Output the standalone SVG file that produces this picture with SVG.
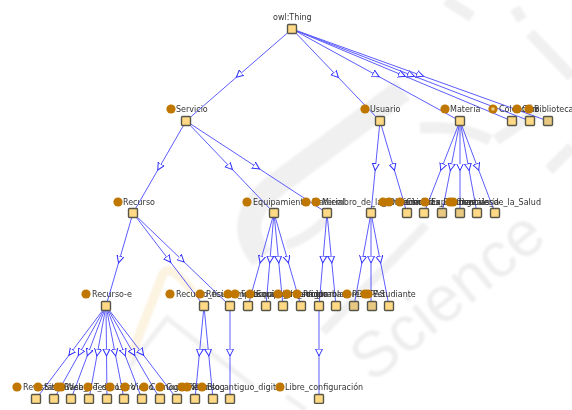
<svg xmlns="http://www.w3.org/2000/svg" width="572" height="410" viewBox="0 0 572 410">
<style>
text{font-family:"DejaVu Sans",sans-serif;font-size:8px;fill:#333}
.d{fill:#bf7700}
.n{fill:#ffd985;stroke:#555548;stroke-width:1.4}
.m{fill:#e9c982;stroke:#555548;stroke-width:1.4}
.e{fill:none;stroke:#5c5cff;stroke-width:1;marker-mid:url(#tri)}
.w{fill:none;stroke:#f0f0f0}
.wm{font-family:"Liberation Sans",sans-serif;font-size:64px;fill:#eeeeee}
</style>
<defs>
<marker id="tri" markerUnits="userSpaceOnUse" markerWidth="10" markerHeight="10" refX="3.5" refY="4" orient="auto"><path d="M0 0.5L7 4L0 7.5Z" fill="#fff" stroke="#3030ff" stroke-width="1"/></marker>
<filter id="b" x="-10%" y="-10%" width="120%" height="120%"><feGaussianBlur stdDeviation="1.2"/></filter>
<filter id="s" x="0" y="0" width="100%" height="100%"><feGaussianBlur stdDeviation="0.3"/></filter>
</defs>
<rect width="572" height="410" fill="#fff"/>
<g id="watermark" filter="url(#b)">
<path d="M130 358L163 274Q170 262 193 292" fill="none" stroke="#fcf3e0" stroke-width="9"/>
<path d="M130 366L167 318L253 386" class="w" stroke-width="5"/>
<path d="M286 396L306 410" class="w" stroke-width="5"/>
<path d="M403 90L272 188Q232 222 262 258" class="w" stroke-width="24"/>
<path d="M286 245Q305 240 326 220" class="w" stroke-width="10"/>
<path d="M323 332L426 225" class="w" stroke-width="9"/>
<path d="M420 128Q460 125 490 140M446 0L472 17M530 33L572 77M515 8L522 20M549 170L572 147M496 140L540 110" class="w" stroke-width="11"/>
<text class="wm" transform="translate(372 384) rotate(-39)">Science</text>
</g>
<g filter="url(#s)">
<g id="connectors">
<polyline class="e" points="292,29 239,75 186,121"/>
<polyline class="e" points="292,29 336,75 380,121"/>
<polyline class="e" points="292,29 376,75 460,121"/>
<polyline class="e" points="292,29 402,75 512,121"/>
<polyline class="e" points="292,29 411,75 530,121"/>
<polyline class="e" points="292,29 420,75 548,121"/>
<polyline class="e" points="186,121 159.500,167 133,213"/>
<polyline class="e" points="186,121 230,167 274,213"/>
<polyline class="e" points="186,121 256.500,167 327,213"/>
<polyline class="e" points="380,121 375.500,167 371,213"/>
<polyline class="e" points="380,121 393.500,167 407,213"/>
<polyline class="e" points="460,121 442,167 424,213"/>
<polyline class="e" points="460,121 451,167 442,213"/>
<polyline class="e" points="460,121 460,167 460,213"/>
<polyline class="e" points="460,121 468.500,167 477,213"/>
<polyline class="e" points="460,121 477.500,167 495,213"/>
<polyline class="e" points="133,213 119.500,259.500 106,306"/>
<polyline class="e" points="133,213 168.500,259.500 204,306"/>
<polyline class="e" points="133,213 181.500,259.500 230,306"/>
<polyline class="e" points="274,213 261,259.500 248,306"/>
<polyline class="e" points="274,213 270,259.500 266,306"/>
<polyline class="e" points="274,213 278.500,259.500 283,306"/>
<polyline class="e" points="274,213 287.500,259.500 301,306"/>
<polyline class="e" points="327,213 323,259.500 319,306"/>
<polyline class="e" points="327,213 331.500,259.500 336,306"/>
<polyline class="e" points="371,213 362.500,259.500 354,306"/>
<polyline class="e" points="371,213 371,259.500 371,306"/>
<polyline class="e" points="371,213 380,259.500 389,306"/>
<polyline class="e" points="106,306 71,352.500 36,399"/>
<polyline class="e" points="106,306 80,352.500 54,399"/>
<polyline class="e" points="106,306 88.500,352.500 71,399"/>
<polyline class="e" points="106,306 97.500,352.500 89,399"/>
<polyline class="e" points="106,306 106.500,352.500 107,399"/>
<polyline class="e" points="106,306 115,352.500 124,399"/>
<polyline class="e" points="106,306 124,352.500 142,399"/>
<polyline class="e" points="106,306 133,352.500 160,399"/>
<polyline class="e" points="106,306 141.500,352.500 177,399"/>
<polyline class="e" points="204,306 199.500,352.500 195,399"/>
<polyline class="e" points="204,306 208.500,352.500 213,399"/>
<polyline class="e" points="230,306 230,352.500 230,399"/>
<polyline class="e" points="319,306 319,352.500 319,399"/>
</g>
<g id="owlThing"><rect class="n" x="287.500" y="24.500" width="9" height="9" rx="1"/><text x="273" y="20">owl:Thing</text></g>
<g id="Servicio"><circle class="d" cx="171" cy="109" r="4.600"/><text x="176" y="112">Servicio</text><rect class="n" x="181.500" y="116.500" width="9" height="9" rx="1"/></g>
<g id="Usuario"><circle class="d" cx="365" cy="109" r="4.600"/><text x="370" y="112">Usuario</text><rect class="n" x="375.500" y="116.500" width="9" height="9" rx="1"/></g>
<g id="Materia"><circle class="d" cx="445" cy="109" r="4.600"/><text x="450" y="112">Materia</text><rect class="n" x="455.500" y="116.500" width="9" height="9" rx="1"/></g>
<g id="Coleccion"><circle class="d" cx="493" cy="109" r="4.600"/><rect x="491.500" y="107.500" width="3" height="3" fill="#f0d090"/><text x="499" y="112">Colección</text><rect class="n" x="507.500" y="116.500" width="9" height="9" rx="1"/></g>
<g id="Otro"><circle class="d" cx="517" cy="109" r="4.600"/><text x="522" y="112">Otro</text><rect class="n" x="525.500" y="116.500" width="9" height="9" rx="1"/></g>
<g id="Biblioteca"><circle class="d" cx="529" cy="109" r="4.600"/><text x="534" y="112">Biblioteca</text><rect class="m" x="543.500" y="116.500" width="9" height="9" rx="1"/></g>
<g id="Recurso"><circle class="d" cx="118" cy="202" r="4.600"/><text x="123" y="205">Recurso</text><rect class="n" x="128.500" y="208.500" width="9" height="9" rx="1"/></g>
<g id="Equipamiento"><circle class="d" cx="247" cy="202" r="4.600"/><text x="253" y="205">Equipamiento</text><rect class="n" x="269.500" y="208.500" width="9" height="9" rx="1"/></g>
<g id="Material"><circle class="d" cx="306" cy="202" r="4.600"/><text x="312" y="205">Material</text><rect class="n" x="322.500" y="208.500" width="9" height="9" rx="1"/></g>
<g id="Miembro"><circle class="d" cx="316" cy="202" r="4.600"/><text x="322" y="205">Miembro_de_la_Universidad</text><rect class="n" x="366.500" y="208.500" width="9" height="9" rx="1"/></g>
<g id="Derecho"><circle class="d" cx="383" cy="202" r="4.600"/><text x="389" y="205">Derecho</text><rect class="n" x="402.500" y="208.500" width="9" height="9" rx="1"/></g>
<g id="Informatica"><circle class="d" cx="389" cy="202" r="4.600"/><text x="395" y="205">Informática</text><rect class="n" x="419.500" y="208.500" width="9" height="9" rx="1"/></g>
<g id="Ciencias"><circle class="d" cx="400" cy="202" r="4.600"/><text x="406" y="205">Ciencias_Exactas</text><rect class="m" x="437.500" y="208.500" width="9" height="9" rx="1"/></g>
<g id="Experimental"><circle class="d" cx="425" cy="202" r="4.600"/><text x="431" y="205">Experimentales</text><rect class="m" x="455.500" y="208.500" width="9" height="9" rx="1"/></g>
<g id="Salud"><circle class="d" cx="450" cy="202" r="4.600"/><text x="456" y="205">Ciencias_de_la_Salud</text><rect class="n" x="490.500" y="208.500" width="9" height="9" rx="1"/></g>
<g id="Ingenieria"><circle class="d" cx="453" cy="202" r="4.600"/><text x="459" y="205">Ingeniería</text><rect class="n" x="472.500" y="208.500" width="9" height="9" rx="1"/></g>
<g id="RecursoE"><circle class="d" cx="86" cy="294" r="4.600"/><text x="92" y="297">Recurso-e</text><rect class="n" x="101.500" y="301.500" width="9" height="9" rx="1"/></g>
<g id="RecursoF"><circle class="d" cx="170" cy="294" r="4.600"/><text x="176" y="297">Recurso_físico</text><rect class="n" x="199.500" y="301.500" width="9" height="9" rx="1"/></g>
<g id="RecursoW"><circle class="d" cx="200" cy="294" r="4.600"/><text x="206" y="297">Recurso_web</text><rect class="n" x="225.500" y="301.500" width="9" height="9" rx="1"/></g>
<g id="Impresora"><circle class="d" cx="228" cy="294" r="4.600"/><text x="234" y="297">Impresora</text><rect class="n" x="243.500" y="301.500" width="9" height="9" rx="1"/></g>
<g id="Foto"><circle class="d" cx="235" cy="294" r="4.600"/><text x="241" y="297">Fotocopiadora</text><rect class="n" x="261.500" y="301.500" width="9" height="9" rx="1"/></g>
<g id="Audio"><circle class="d" cx="250" cy="294" r="4.600"/><text x="256" y="297">Equipo_de_sonido</text><rect class="n" x="278.500" y="301.500" width="9" height="9" rx="1"/></g>
<g id="Ordenador"><circle class="d" cx="278" cy="294" r="4.600"/><text x="284" y="297">Ordenador</text><rect class="n" x="296.500" y="301.500" width="9" height="9" rx="1"/></g>
<g id="Configurable"><circle class="d" cx="287" cy="294" r="4.600"/><text x="293" y="297">Configurable</text><rect class="n" x="314.500" y="301.500" width="9" height="9" rx="1"/></g>
<g id="Programable"><circle class="d" cx="297" cy="294" r="4.600"/><text x="303" y="297">Programadores</text><rect class="n" x="331.500" y="301.500" width="9" height="9" rx="1"/></g>
<g id="PDI"><circle class="d" cx="347" cy="294" r="4.600"/><text x="352" y="297">PDI</text><rect class="m" x="349.500" y="301.500" width="9" height="9" rx="1"/></g>
<g id="PAS"><circle class="d" cx="365" cy="294" r="4.600"/><text x="370" y="297">PAS</text><rect class="m" x="367.500" y="301.500" width="9" height="9" rx="1"/></g>
<g id="Estudiante"><circle class="d" cx="368" cy="294" r="4.600"/><text x="373" y="297">Estudiante</text><rect class="n" x="384.500" y="301.500" width="9" height="9" rx="1"/></g>
<g id="Revistas"><circle class="d" cx="17" cy="387" r="4.600"/><text x="23" y="390">Revistas</text><rect class="n" x="31.500" y="394.500" width="9" height="9" rx="1"/></g>
<g id="Sitio"><circle class="d" cx="38" cy="387" r="4.600"/><text x="44" y="390">Sitio</text><rect class="n" x="49.500" y="394.500" width="9" height="9" rx="1"/></g>
<g id="Web"><circle class="d" cx="61" cy="387" r="4.600"/><text x="66" y="390">Web</text><rect class="n" x="66.500" y="394.500" width="9" height="9" rx="1"/></g>
<g id="BaseDatos"><circle class="d" cx="58" cy="387" r="4.600"/><text x="64" y="390">Base_de_datos</text><rect class="n" x="84.500" y="394.500" width="9" height="9" rx="1"/></g>
<g id="Tesis"><circle class="d" cx="88" cy="387" r="4.600"/><text x="94" y="390">Tesis</text><rect class="n" x="102.500" y="394.500" width="9" height="9" rx="1"/></g>
<g id="Libro"><circle class="d" cx="110" cy="387" r="4.600"/><text x="116" y="390">Libro</text><rect class="n" x="119.500" y="394.500" width="9" height="9" rx="1"/></g>
<g id="Video"><circle class="d" cx="125" cy="387" r="4.600"/><text x="131" y="390">Video</text><rect class="n" x="137.500" y="394.500" width="9" height="9" rx="1"/></g>
<g id="Crono"><circle class="d" cx="144" cy="387" r="4.600"/><text x="150" y="390">Cronograma</text><rect class="n" x="155.500" y="394.500" width="9" height="9" rx="1"/></g>
<g id="Guia"><circle class="d" cx="160" cy="387" r="4.600"/><text x="166" y="390">Guía</text><rect class="n" x="172.500" y="394.500" width="9" height="9" rx="1"/></g>
<g id="Antiguo"><circle class="d" cx="182" cy="387" r="4.600"/><text x="188" y="390">Recurso_antiguo_digital</text><rect class="n" x="225.500" y="394.500" width="9" height="9" rx="1"/></g>
<g id="Plan"><circle class="d" cx="187" cy="387" r="4.600"/><text x="192" y="390">Plan</text><rect class="n" x="190.500" y="394.500" width="9" height="9" rx="1"/></g>
<g id="Blog"><circle class="d" cx="202" cy="387" r="4.600"/><text x="207" y="390">Blog</text><rect class="n" x="208.500" y="394.500" width="9" height="9" rx="1"/></g>
<g id="Libre"><circle class="d" cx="280" cy="387" r="4.600"/><text x="285" y="390">Libre_configuración</text><rect class="n" x="314.500" y="394.500" width="9" height="9" rx="1"/></g>
</g>
</svg>
